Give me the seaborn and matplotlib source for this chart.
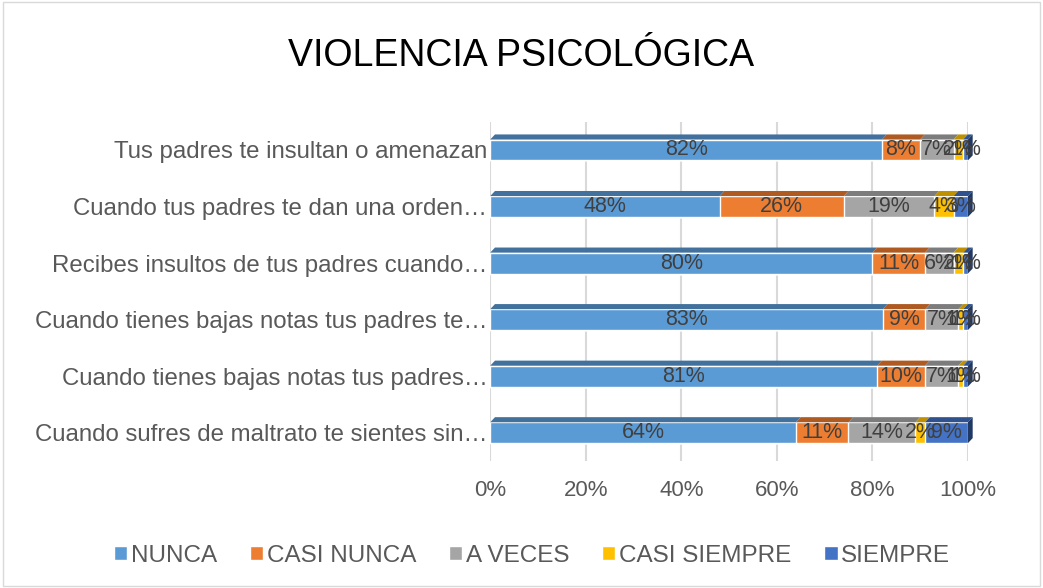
import pandas as pd
import numpy as np
import seaborn as sns
import matplotlib.pyplot as plt
from matplotlib.patches import Rectangle, Patch, Polygon

preguntas = [
    "Tus padres te insultan o amenazan",
    "Cuando tus padres te dan una orden…",
    "Recibes insultos de tus padres cuando…",
    "Cuando tienes bajas notas tus padres te…",
    "Cuando tienes bajas notas tus padres…",
    "Cuando sufres de maltrato te sientes sin…",
]
series = ["NUNCA", "CASI NUNCA", "A VECES", "CASI SIEMPRE", "SIEMPRE"]
nunca = [82, 48, 80, 83, 81, 64]
casi_nunca = [8, 26, 11, 9, 10, 11]
a_veces = [7, 19, 6, 7, 7, 14]
casi_siempre = [2, 4, 2, 1, 1, 2]
siempre = [1, 3, 1, 1, 1, 9]
colores = ["#5B9BD5", "#ED7D31", "#A5A5A5", "#FFC000", "#4472C4"]
oscuros = ["#41719C", "#AE5A21", "#7C7C7C", "#BF9000", "#2F528F"]

df = pd.DataFrame({"pregunta": preguntas, "NUNCA": nunca, "CASI NUNCA": casi_nunca,
                   "A VECES": a_veces, "CASI SIEMPRE": casi_siempre, "SIEMPRE": siempre})
tot = df[series].sum(axis=1)
pct = df[series].div(tot, axis=0) * 100   # 100 % stacked
cum = pct.cumsum(axis=1)

sns.set_style("white")
plt.rcParams["font.family"] = ["Liberation Sans", "DejaVu Sans"]

fig = plt.figure(figsize=(10.43, 5.88), dpi=100)
ax = fig.add_axes([0.47, 0.216, 0.458, 0.577])

ancho = 0.37
# stacked bars: draw cumulative totals from the last series backwards
for i in range(len(series) - 1, -1, -1):
    sns.barplot(x=cum[series[i]], y=df["pregunta"], color=colores[i], orient="h",
                width=ancho, ax=ax, saturation=1, zorder=2)

# fake 3d top / side faces
dx, dy = 1.0, 0.09
for i, s in enumerate(series):
    left = cum[s] - pct[s]
    for j in range(len(df)):
        x0, x1 = left[j], cum[s][j]
        yt = j - ancho / 2
        ax.add_patch(Polygon([(x0, yt), (x1, yt), (x1 + dx, yt - dy), (x0 + dx, yt - dy)],
                             closed=True, facecolor=oscuros[i], edgecolor="none",
                             zorder=3, clip_on=False))
        if i == len(series) - 1:
            yb = j + ancho / 2
            ax.add_patch(Polygon([(x1, yt), (x1 + dx, yt - dy), (x1 + dx, yb - dy), (x1, yb)],
                                 closed=True, facecolor="#203864", edgecolor="none",
                                 zorder=3, clip_on=False))

# segment labels
for i, s in enumerate(series):
    left = cum[s] - pct[s]
    for j in range(len(df)):
        ax.text(left[j] + pct[s][j] / 2, j, f"{df[s][j]}%", ha="center", va="center",
                fontsize=15.5, color="#404040", zorder=5)

ax.set_xlim(0, 100)
ax.set_ylim(5.5, -0.5)
ax.set_xticks(np.arange(0, 101, 20))
ax.set_xticklabels([f"{t}%" for t in range(0, 101, 20)])
ax.tick_params(axis="x", labelsize=16, colors="#595959", length=0, pad=14)
ax.tick_params(axis="y", labelsize=17.3, colors="#595959", length=0, pad=2)
ax.xaxis.grid(True, color="#D9D9D9", linewidth=1.5, zorder=0)
ax.set_axisbelow(True)
for sp in ax.spines.values():
    sp.set_visible(False)
ax.set_xlabel("")
ax.set_ylabel("")

fig.suptitle("VIOLENCIA PSICOLÓGICA", fontsize=27, color="#000000", y=0.935)

handles = [Patch(facecolor=c, label=s) for s, c in zip(series, colores)]
fig.legend(handles=handles, loc="center", bbox_to_anchor=(0.51, 0.055), ncol=5,
           frameon=False, fontsize=17.5, handlelength=0.55, handleheight=0.55,
           handletextpad=0.15, columnspacing=1.35, labelcolor="#595959")

fig.patches.append(Rectangle((0.003, 0.003), 0.994, 0.994, transform=fig.transFigure,
                             fill=False, edgecolor="#D9D9D9", linewidth=1))

fig.savefig("out.png", dpi=100)
